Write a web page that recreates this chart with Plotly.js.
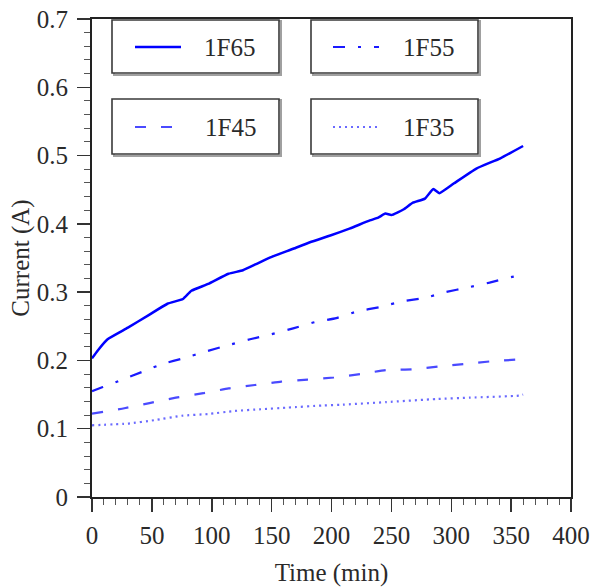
<!DOCTYPE html>
<html>
<head>
<meta charset="utf-8">
<script src="https://cdn.plot.ly/plotly-3.0.1.min.js"></script>
<style>html,body{margin:0;padding:0;background:#fff;}#chart{width:592px;height:587px;}</style>
</head>
<body>
<div id="chart"></div>
<script>
// ---- data ----
const seriesNames = ["1F65", "1F55", "1F45", "1F35"];

const t65 = [0, 5, 13, 30, 47, 63, 76, 83, 97, 114, 126, 137, 149, 168, 182, 199, 215, 232, 239, 245, 250, 260, 268, 278, 285, 290, 302, 321, 341, 360];
const v65 = [0.203, 0.215, 0.231, 0.248, 0.266, 0.283, 0.290, 0.302, 0.312, 0.327, 0.332, 0.341, 0.351, 0.3635, 0.373, 0.383, 0.393, 0.405, 0.409, 0.415, 0.413, 0.421, 0.431, 0.437, 0.451, 0.445, 0.459, 0.481, 0.496, 0.514];

const t55 = [0, 9, 24, 43, 59, 77, 95, 114, 132, 150, 168, 186, 204, 222, 240, 259, 278, 295, 314, 332, 350, 360];
const v55 = [0.155, 0.161, 0.171, 0.184, 0.195, 0.2035, 0.213, 0.2225, 0.231, 0.2385, 0.247, 0.256, 0.262, 0.272, 0.278, 0.2865, 0.2915, 0.300, 0.307, 0.314, 0.322, 0.325];

const t45 = [0, 27, 48, 70, 93, 114, 136, 158, 180, 202, 224, 246, 267, 289, 312, 332, 356, 360];
const v45 = [0.122, 0.130, 0.1375, 0.1455, 0.152, 0.159, 0.164, 0.169, 0.172, 0.175, 0.180, 0.186, 0.187, 0.191, 0.195, 0.1985, 0.2015, 0.203];

const t35 = [0, 30, 52, 75, 97, 119, 141, 164, 192, 207, 246, 288, 316, 357, 360];
const v35 = [0.105, 0.1075, 0.1125, 0.119, 0.1215, 0.126, 0.1285, 0.131, 0.134, 0.135, 0.139, 0.1435, 0.1455, 0.1485, 0.150];

const xTickVals = [0, 50, 100, 150, 200, 250, 300, 350, 400];
const yTickVals = [0, 0.1, 0.2, 0.3, 0.4, 0.5, 0.6, 0.7];
const yTickText = ["0", "0.1", "0.2", "0.3", "0.4", "0.5", "0.6", "0.7"];

// ---- styling ----
const FONT = '"Liberation Serif", "Times New Roman", serif';
const TXT = '#2a2a2a';
const FS = 25;
const styles = [
  {color: '#0000ff', dash: 'solid', width: 2.5},
  {color: '#1a1aff', dash: '12px,13px,3px,13px', width: 2.2},
  {color: '#4a4aff', dash: '11px,15px', width: 2.2},
  {color: '#6a6aff', dash: '2px,4px', width: 2.2}
];
const xs = [t65, t55, t45, t35];
const ys = [v65, v55, v45, v35];

const traces = seriesNames.map((n, i) => ({
  type: 'scatter', mode: 'lines', name: n, x: xs[i], y: ys[i],
  line: {color: styles[i].color, dash: styles[i].dash, width: styles[i].width, shape: 'spline', smoothing: 0.4},
  showlegend: false, hoverinfo: 'skip'
}));

// legend boxes drawn as shapes (pixel -> paper helpers)
const L = 92, R = 21, T = 19, B = 90, W = 592, H = 587;
const pw = W - L - R, ph = H - T - B;
const px = v => (v - L) / pw;
const py = v => (H - B - v) / ph;

const boxes = [
  {x0: 112, x1: 279, y0: 20, y1: 73, lx0: 135, lx1: 181, ly: 47, tx: 229},
  {x0: 311, x1: 478, y0: 20, y1: 73, lx0: 333, lx1: 379, ly: 47, tx: 428},
  {x0: 112, x1: 279, y0: 99, y1: 154, lx0: 135, lx1: 181, ly: 127, tx: 230},
  {x0: 311, x1: 478, y0: 99, y1: 154, lx0: 333, lx1: 379, ly: 127, tx: 428}
];
const shapes = [];
const annotations = [];
boxes.forEach((b, i) => {
  shapes.push({type: 'rect', xref: 'paper', yref: 'paper', x0: px(b.x0 + 2), x1: px(b.x1 + 2), y0: py(b.y1 + 2), y1: py(b.y0 + 1),
    line: {color: '#a0a0a0', width: 2}, fillcolor: 'rgba(0,0,0,0)', layer: 'above'});
  shapes.push({type: 'rect', xref: 'paper', yref: 'paper', x0: px(b.x0), x1: px(b.x1), y0: py(b.y1), y1: py(b.y0),
    line: {color: '#3a3a3a', width: 1.6}, fillcolor: '#ffffff', layer: 'above'});
  shapes.push({type: 'line', xref: 'paper', yref: 'paper', x0: px(b.lx0), x1: px(b.lx1), y0: py(b.ly), y1: py(b.ly),
    line: {color: styles[i].color, dash: styles[i].dash, width: styles[i].width}, layer: 'above'});
  annotations.push({xref: 'paper', yref: 'paper', x: px(b.tx), y: py(b.ly), text: seriesNames[i], showarrow: false,
    xanchor: 'center', yanchor: 'middle', font: {family: FONT, size: FS, color: TXT}});
});

const axisCommon = {
  showgrid: false, zeroline: false, showline: true, linecolor: '#222', linewidth: 2, mirror: true,
  ticks: 'outside', ticklen: 13, tickwidth: 1.5, tickcolor: '#333',
  tickfont: {family: FONT, size: FS, color: TXT},
  minor: {ticks: 'outside', ticklen: 6, tickwidth: 1, tickcolor: '#555', showgrid: false}
};

const layout = {
  width: W, height: H,
  margin: {l: L, r: R, t: T, b: B},
  paper_bgcolor: '#ffffff', plot_bgcolor: '#ffffff',
  font: {family: FONT, color: TXT},
  xaxis: Object.assign({}, axisCommon, {
    range: [0, 400], tickvals: xTickVals, ticklabelstandoff: 2,
    minor: Object.assign({}, axisCommon.minor, {dtick: 10, tick0: 0}),
    title: {text: 'Time (min)', font: {family: FONT, size: FS, color: TXT}, standoff: 16}
  }),
  yaxis: Object.assign({}, axisCommon, {
    range: [0, 0.7], tickvals: yTickVals, ticktext: yTickText, ticklabelstandoff: 4,
    minor: Object.assign({}, axisCommon.minor, {dtick: 0.02, tick0: 0}),
    title: {text: 'Current (A)', font: {family: FONT, size: FS, color: TXT}, standoff: 0}
  }),
  shapes: shapes,
  annotations: annotations
};

Plotly.newPlot('chart', traces, layout, {staticPlot: true, displayModeBar: false});
</script>
</body>
</html>
